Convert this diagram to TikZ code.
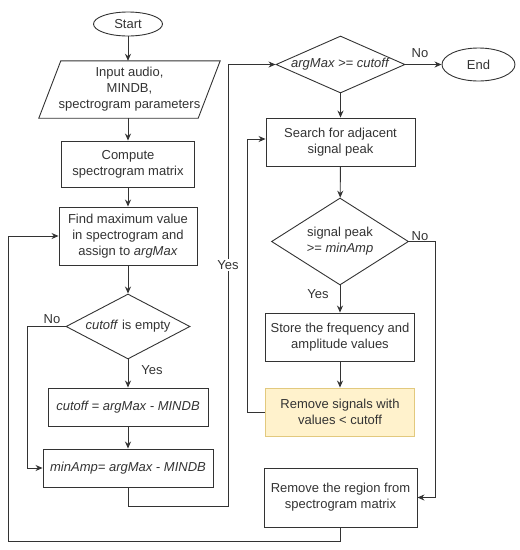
\documentclass[tikz,border=0pt]{standalone}
\usepackage{fontspec}
\setmainfont{Liberation Sans}
\usetikzlibrary{shapes.geometric,arrows.meta}
\definecolor{ink}{HTML}{333333}
\definecolor{noteFill}{HTML}{FFF2CC}
\definecolor{noteDraw}{HTML}{E2C97E}
\begin{document}
\begin{tikzpicture}[x=1pt,y=-1pt,
  every node/.style={font=\fontsize{13}{16}\selectfont, text=ink, inner sep=0pt, align=center},
  box/.style={draw=ink, line width=0.9pt, rectangle},
  oval/.style={draw=ink, line width=0.9pt, ellipse},
  dia/.style={draw=ink, line width=0.9pt, diamond},
  note/.style={box, fill=noteFill, draw=noteDraw},
  lbl/.style={font=\fontsize{13}{16}\selectfont},
  conn/.style={draw=ink, line width=0.9pt, -{Stealth[length=7pt,width=6pt]}},
  wire/.style={draw=ink, line width=0.9pt}]
\useasboundingbox (0,0) rectangle (520,550);

% left column
\node[oval, minimum width=69, minimum height=24] (start) at (128,24) {Start};
\node[minimum width=159, minimum height=57] (input) at (129.5,89.5)
  {Input audio,\\MINDB,\\spectrogram parameters};
\draw[draw=ink, line width=0.9pt]
  ([xshift=11pt]input.north west) -- ([xshift=11pt]input.north east)
  -- ([xshift=-11pt]input.south east) -- ([xshift=-11pt]input.south west) -- cycle;
\node[box, minimum width=133, minimum height=46] (compute) at (128,164)
  {Compute\\spectrogram matrix};
\node[box, minimum width=138, minimum height=58] (findmax) at (128,236)
  {Find maximum value\\in spectrogram and\\assign to \textit{argMax}};
\node[dia, minimum width=124, minimum height=65] (cutq) at (128,326.5) {};
\node (cutqt) at (cutq) {\textit{cutoff} is empty};
\node[box, minimum width=160, minimum height=38] (cutbox) at (128,407)
  {\textit{cutoff = argMax - MINDB}};
\node[box, minimum width=170, minimum height=38] (minamp) at (128,468)
  {\textit{minAmp= argMax - MINDB}};

% right column
\node[dia, minimum width=129, minimum height=57] (argq) at (340.5,64.5) {};
\node (argqt) at (argq) {\textit{argMax >= cutoff}};
\node[oval, minimum width=73, minimum height=33] (endn) at (478.5,64.5) {End};
\node[box, minimum width=149, minimum height=48] (search) at (340.5,142)
  {Search for adjacent\\signal peak};
\node[dia, minimum width=137, minimum height=87] (peakq) at (340,241.5) {};
\node (peakqt) at (peakq) {signal peak\\>= \textit{minAmp}};
\node[box, minimum width=149, minimum height=48] (store) at (340,337)
  {Store the frequency and\\amplitude values};
\node[note, minimum width=149, minimum height=48] (remsig) at (340,412)
  {Remove signals with\\values < cutoff};
\node[box, minimum width=153, minimum height=59] (remreg) at (340.5,497.5)
  {Remove the region from\\spectrogram matrix};

% helper coordinates
\coordinate (noL) at (27,326.5);
\coordinate (yesB) at (128,506);
\coordinate (yesR) at (228,506);
\coordinate (yesT) at (228,64.5);
\coordinate (noR) at (435,241.5);
\coordinate (loopL) at (247,412);
\coordinate (bigB) at (340.5,541);
\coordinate (bigL) at (8,541);

% connectors
\draw[conn] (start) -- (start |- input.north);
\draw[conn] (input.south -| compute) -- (compute);
\draw[conn] (compute) -- (findmax);
\draw[conn] (findmax) -- (cutq);
\draw[conn] (cutq) -- (cutbox);
\draw[conn] (cutq.west) -- (noL) |- (minamp.west);
\draw[conn] (cutbox) -- (minamp);
\draw[conn] (minamp.south) -- (yesB) -- (yesR) -- (yesT) -- (argq.west);
\draw[conn] (argq.east) -- (endn.west);
\draw[conn] (argq) -- (search);
\draw[conn] (search) -- (peakq);
\draw[conn] (peakq) -- (store);
\draw[conn] (peakq.east) -- (noR) |- (remreg.east);
\draw[conn] (store) -- (remsig);
\draw[conn] (remsig.west) -- (loopL) |- ([yshift=3pt]search.west);
\draw[conn] (remreg.south) -- (bigB) -- (bigL) |- (findmax.west);

% labels
\node[lbl] (lno1) at (52,319) {No};
\node[lbl] (lyes1) at (152,370) {Yes};
\node[lbl, fill=white, inner sep=1pt] (lyes2) at (228,265) {Yes};
\node[lbl] (lno2) at (420,53) {No};
\node[lbl] (lno3) at (420,236) {No};
\node[lbl] (lyes3) at (318,294) {Yes};
\end{tikzpicture}
\end{document}
